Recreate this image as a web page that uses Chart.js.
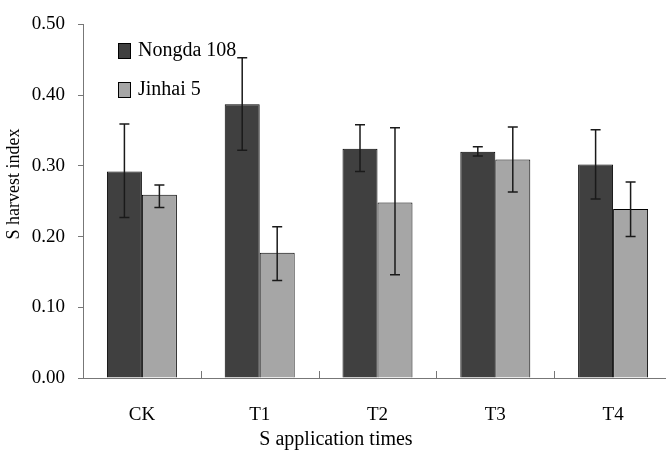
<!DOCTYPE html>
<html>
<head>
<meta charset="utf-8">
<script src="https://cdn.jsdelivr.net/npm/chart.js@4/dist/chart.umd.min.js"></script>
<style>
  html, body { margin: 0; padding: 0; background: #fff; overflow: hidden; }
  #wrap { width: 673px; height: 452px; }
</style>
</head>
<body>
<div id="wrap"><canvas id="barChart"></canvas></div>
<script>
const categories = ['CK', 'T1', 'T2', 'T3', 'T4'];
const nongda = [0.292, 0.387, 0.324, 0.320, 0.302];
const nongdaLow = [0.227, 0.322, 0.292, 0.314, 0.253];
const nongdaHigh = [0.359, 0.453, 0.358, 0.327, 0.351];
const jinhai = [0.259, 0.177, 0.248, 0.309, 0.239];
const jinhaiLow = [0.241, 0.138, 0.146, 0.263, 0.200];
const jinhaiHigh = [0.273, 0.214, 0.354, 0.355, 0.277];
const yTicks = [0, 0.1, 0.2, 0.3, 0.4, 0.5];
const yTitle = 'S harvest index';

const serif = '"Liberation Serif"';

// error bars, in-chart legend, inward x ticks, y title
const extras = {
  id: 'extras',
  afterDatasetsDraw(chart) {
    const ctx = chart.ctx;
    const y = chart.scales.y;
    const x = chart.scales.x;
    const lows = [nongdaLow, jinhaiLow];
    const highs = [nongdaHigh, jinhaiHigh];
    ctx.save();
    ctx.strokeStyle = '#1a1a1a';
    ctx.lineWidth = 1.5;
    chart.data.datasets.forEach((ds, di) => {
      chart.getDatasetMeta(di).data.forEach((bar, i) => {
        const top = y.getPixelForValue(highs[di][i]);
        const bot = y.getPixelForValue(lows[di][i]);
        ctx.beginPath();
        ctx.moveTo(bar.x, top); ctx.lineTo(bar.x, bot);
        ctx.moveTo(bar.x - 5, top); ctx.lineTo(bar.x + 5, top);
        ctx.moveTo(bar.x - 5, bot); ctx.lineTo(bar.x + 5, bot);
        ctx.stroke();
      });
    });
    // category boundary ticks pointing up
    ctx.strokeStyle = '#777';
    ctx.lineWidth = 1;
    const step = (x.right - x.left) / categories.length;
    for (let i = 1; i < categories.length; i++) {
      const px = Math.round(x.left + step * i) + 0.5;
      ctx.beginPath();
      ctx.moveTo(px, y.bottom); ctx.lineTo(px, y.bottom - 7);
      ctx.stroke();
    }
    // legend
    ctx.font = Chart.helpers.toFont({ family: serif, size: 20 }).string;
    ctx.textBaseline = 'middle';
    ctx.textAlign = 'left';
    chart.data.datasets.forEach((ds, di) => {
      const cy = 51 + di * 39;
      ctx.fillStyle = ds.backgroundColor;
      ctx.fillRect(118.5, cy - 7.5, 12, 15);
      ctx.strokeStyle = '#000';
      ctx.strokeRect(118.5, cy - 7.5, 12, 15);
      ctx.fillStyle = '#000';
      ctx.fillText(ds.label, 138, cy);
    });
    // y axis title
    ctx.font = Chart.helpers.toFont({ family: serif, size: 18 }).string;
    ctx.translate(14, 184);
    ctx.rotate(-Math.PI / 2);
    ctx.textAlign = 'center';
    ctx.fillText(yTitle, 0, 0);
    ctx.restore();
  }
};

new Chart(document.getElementById('barChart'), {
  type: 'bar',
  data: {
    labels: categories,
    datasets: [
      { label: 'Nongda 108', data: nongda, backgroundColor: '#404040', borderColor: '#000', borderWidth: 1 },
      { label: 'Jinhai 5', data: jinhai, backgroundColor: '#a6a6a6', borderColor: '#000', borderWidth: 1 }
    ]
  },
  options: {
    responsive: true,
    maintainAspectRatio: false,
    animation: false,
    categoryPercentage: 0.594,
    barPercentage: 1,
    layout: { padding: { top: 23, right: 1, left: 0, bottom: 0 } },
    plugins: {
      legend: { display: false },
      tooltip: { enabled: false },
      title: {
        display: true,
        position: 'bottom',
        text: 'S application times',
        color: '#000',
        font: { family: serif, size: 20, weight: 'normal' },
        padding: { top: 0, bottom: 0 }
      }
    },
    scales: {
      x: {
        grid: { display: false },
        border: { color: '#777', width: 1 },
        ticks: { color: '#000', padding: 18, font: { family: serif, size: 19 } },
        afterFit: s => { s.height = 50; }
      },
      y: {
        min: 0,
        max: 0.5,
        afterBuildTicks: s => { s.ticks = yTicks.map(v => ({ value: v })); },
        grid: { drawOnChartArea: false, drawTicks: true, tickLength: 5, color: '#777' },
        border: { color: '#777', width: 1 },
        ticks: {
          color: '#000', padding: 13,
          font: { family: serif, size: 19 },
          callback: v => v.toFixed(2)
        },
        afterFit: s => { s.width = 83; }
      }
    }
  },
  plugins: [extras]
});
</script>
</body>
</html>
